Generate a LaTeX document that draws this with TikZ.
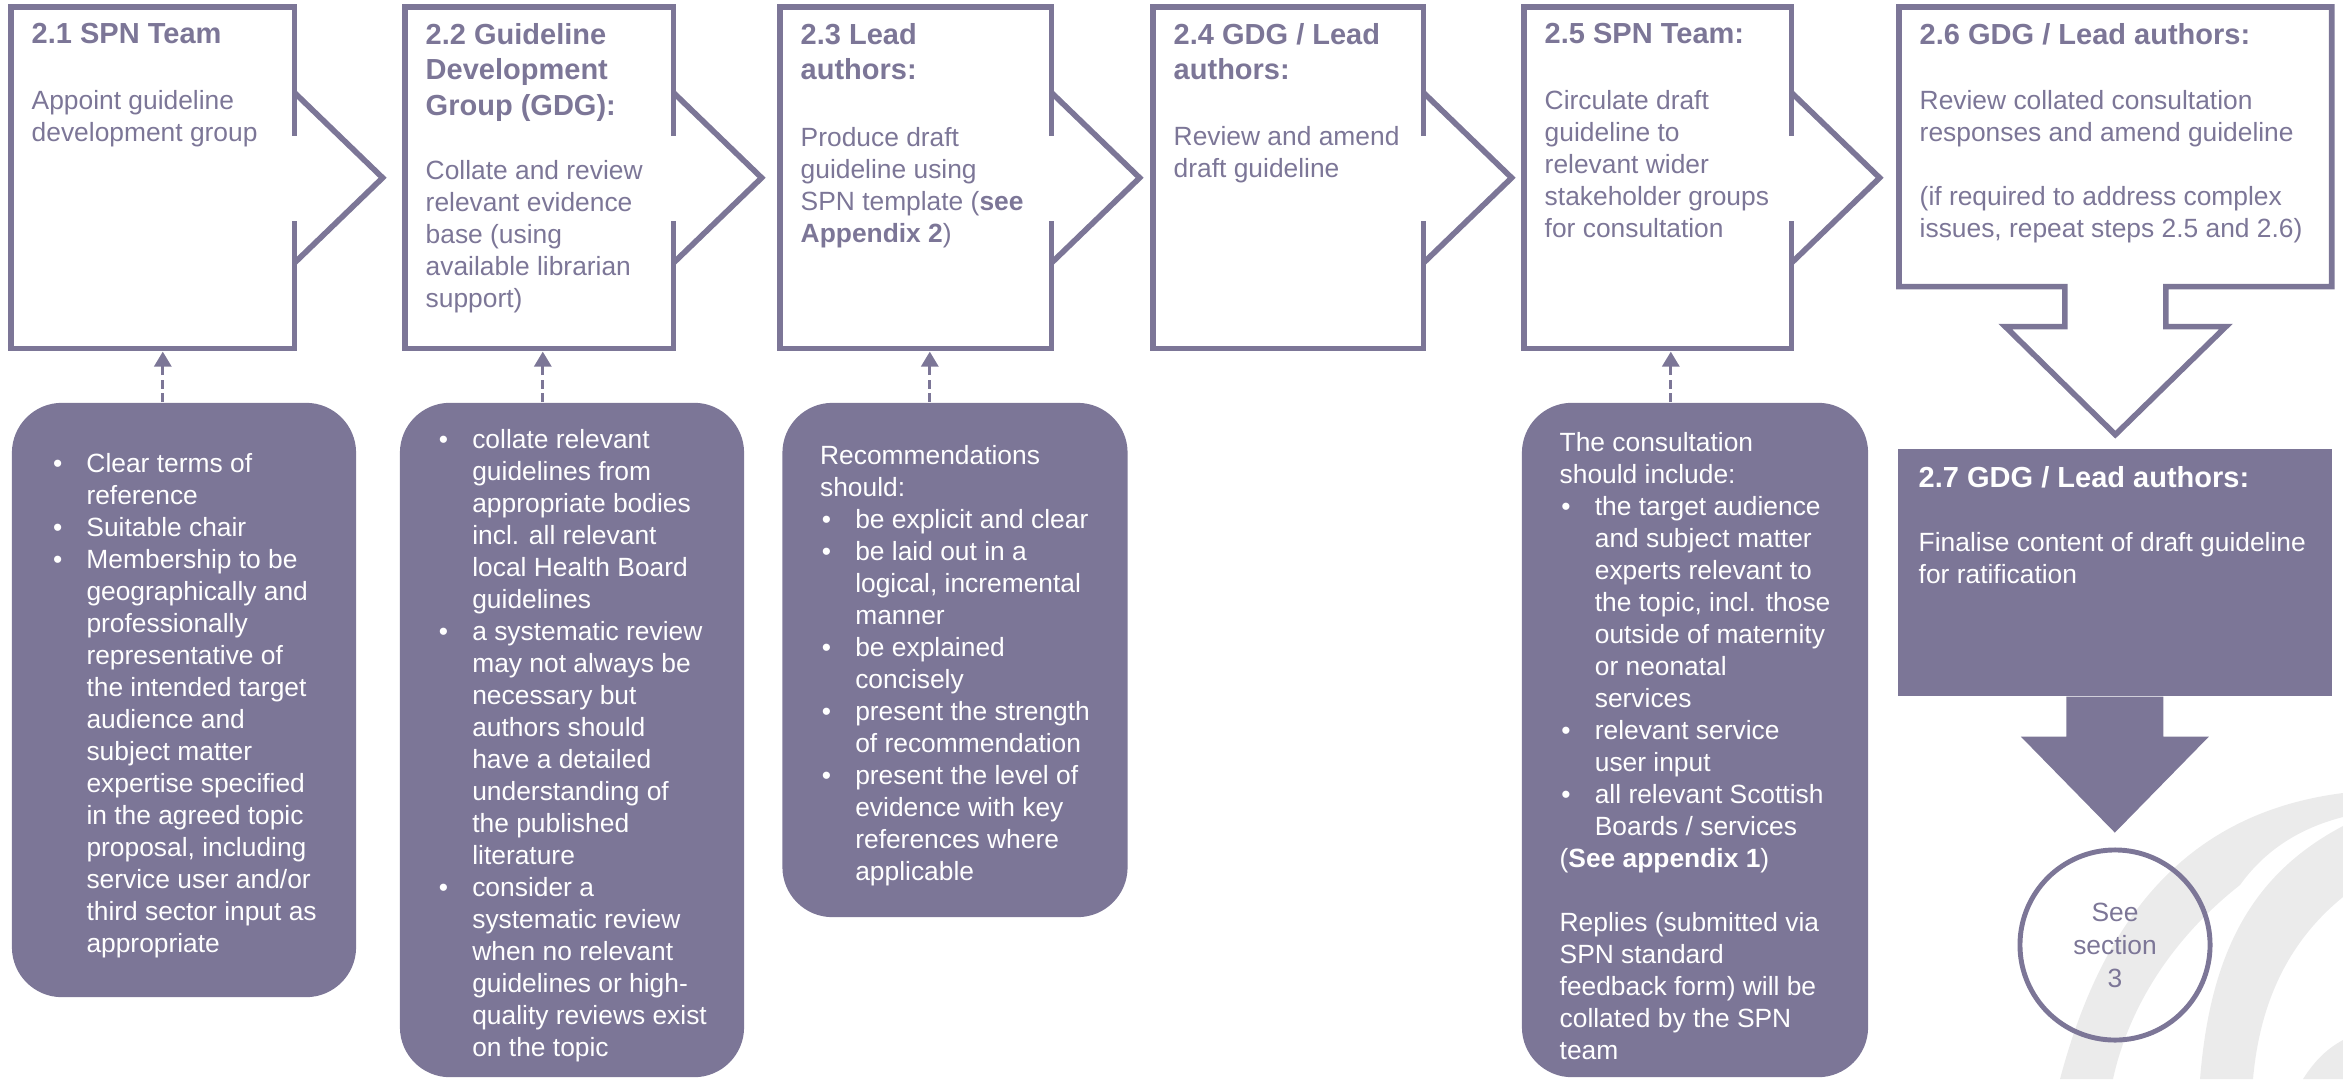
\documentclass[tikz,border=0pt]{standalone}
\usepackage{fontspec}
\setmainfont{Liberation Sans}
\usetikzlibrary{arrows.meta, positioning}
\definecolor{spnpurple}{HTML}{7C7697}
\definecolor{spngray}{HTML}{EBEBEB}
\newcommand{\bul}{\makebox[10pt][l]{\hspace{0.5pt}\textbullet}}
\newcommand{\ind}{\hspace*{10pt}}
\newcommand{\cstrut}{\rule{0pt}{8.9pt}}

\begin{document}
\begin{tikzpicture}[
  x=0.01cm, y=-0.01cm,
  every node/.style={font=\fontsize{7.5}{9.1}\selectfont, inner sep=0pt},
  stepbox/.style={rectangle, minimum height=3.4cm, anchor=north west},
  boxline/.style={draw=spnpurple, line width=1.6pt},
  head/.style={anchor=north west, align=left, text=spnpurple, font=\fontsize{8.25}{10}\selectfont\bfseries},
  body/.style={anchor=north west, align=left, text=spnpurple},
  callout/.style={rectangle, rounded corners=0.5cm, fill=spnpurple, text=white, align=left, minimum width=3.44cm},
  link/.style={draw=spnpurple, line width=0.9pt, dash pattern=on 0.09cm off 0.045cm, -{Triangle[width=0.17cm, length=0.15cm]}},
]
\useasboundingbox (0,0) rectangle (2343,1079);

% watermark arcs
\fill[spngray] (2060,1079) .. controls (2110,890) and (2210,810) .. (2343,793) -- (2343,817) .. controls (2300,828) and (2265,850) .. (2240,885) .. controls (2170,940) and (2128,1010) .. (2113,1079) -- cycle;
\fill[spngray] (2200,1079) .. controls (2210,955) and (2250,875) .. (2343,826) -- (2343,897) .. controls (2290,940) and (2260,1000) .. (2253,1079) -- cycle;
\fill[spngray] (2303,1079) .. controls (2315,1060) and (2328,1048) .. (2343,1040) -- (2343,1079) -- cycle;

% step boxes
\node[stepbox, minimum width=2.82cm] (s1) at (11,7) {};
\node[stepbox, minimum width=2.67cm] (s2) at (405,7) {};
\node[stepbox, minimum width=2.70cm] (s3) at (780,7) {};
\node[stepbox, minimum width=2.69cm] (s4) at (1153,7) {};
\node[stepbox, minimum width=2.66cm] (s5) at (1524,7) {};
\node[stepbox, minimum width=4.31cm, minimum height=2.78cm] (s6) at (1899,7) {};
\node[stepbox, minimum width=4.34cm, minimum height=2.47cm, fill=spnpurple] (s7) at (1897,448) {};

\foreach \b in {s1,s2,s3,s4,s5} {
  \draw[boxline] ([yshift=0.42cm]\b.east) |- (\b.north west) -- (\b.south west) -| ([yshift=-0.43cm]\b.east);
  \draw[boxline] ([yshift=0.85cm]\b.east) -- ([xshift=0.88cm]\b.east) -- ([yshift=-0.85cm]\b.east);
}

% down arrows
\draw[boxline] ([xshift=-0.505cm]s6.south) -- (s6.south west) -- (s6.north west) -- (s6.north east) -- (s6.south east) -- ([xshift=0.505cm]s6.south) -- ++(0cm,-0.4cm) -- ++(0.6cm,0cm) -- ([yshift=-1.48cm]s6.south) -- ([shift={(-1.1cm,-0.4cm)}]s6.south) -- ++(0.595cm,0cm) -- cycle;
\fill[spnpurple] ([xshift=-0.485cm]s7.south) -- ++(0cm,-0.4cm) -- ++(-0.455cm,0cm) -- ([yshift=-1.36cm]s7.south) -- ([shift={(0.94cm,-0.4cm)}]s7.south) -- ++(-0.455cm,0cm) -- ([xshift=0.485cm]s7.south) -- cycle;

\node[circle, draw=spnpurple, line width=1.4pt, minimum size=1.9cm, align=center, text=spnpurple, font=\fontsize{7.5}{9.4}\selectfont] (s8) at (2115,945) {See\\section\\3};

% box texts
\node[head] (h1) at ([xshift=0.2cm, yshift=-0.16cm]s1.north west) {2.1 SPN Team};
\node[body] (t1) at ([xshift=0.2cm, yshift=-0.83cm]s1.north west) {Appoint guideline\\development group};
\node[head] (h2) at ([xshift=0.2cm, yshift=-0.16cm]s2.north west) {2.2 Guideline\\Development\\Group (GDG):};
\node[body] (t2) at ([xshift=0.2cm, yshift=-1.53cm]s2.north west) {Collate and review\\relevant evidence\\base (using\\available librarian\\support)};
\node[head] (h3) at ([xshift=0.2cm, yshift=-0.16cm]s3.north west) {2.3 Lead\\authors:};
\node[body] (t3) at ([xshift=0.2cm, yshift=-1.20cm]s3.north west) {Produce draft\\guideline using\\SPN template (\textbf{see}\\\textbf{Appendix 2})};
\node[head] (h4) at ([xshift=0.2cm, yshift=-0.16cm]s4.north west) {2.4 GDG / Lead\\authors:};
\node[body] (t4) at ([xshift=0.2cm, yshift=-1.19cm]s4.north west) {Review and amend\\draft guideline};
\node[head] (h5) at ([xshift=0.2cm, yshift=-0.16cm]s5.north west) {2.5 SPN Team:};
\node[body] (t5) at ([xshift=0.2cm, yshift=-0.83cm]s5.north west) {Circulate draft\\guideline to\\relevant wider\\stakeholder groups\\for consultation};
\node[head] (h6) at ([xshift=0.2cm, yshift=-0.16cm]s6.north west) {2.6 GDG / Lead authors:};
\node[body] (t6) at ([xshift=0.2cm, yshift=-0.83cm]s6.north west) {Review collated consultation\\responses and amend guideline\\[9.1pt](if required to address complex\\issues, repeat steps 2.5 and 2.6)};
\node[head, text=white] (h7) at ([xshift=0.21cm, yshift=-0.18cm]s7.north west) {2.7 GDG / Lead authors:};
\node[body, text=white] (t7) at ([xshift=0.21cm, yshift=-0.84cm]s7.north west) {Finalise content of draft guideline\\for ratification};

% callouts
\node[callout, minimum height=5.94cm] (c1) at (184,700) {\cstrut\bul Clear terms of\\\ind reference\\\bul Suitable chair\\\bul Membership to be\\\ind geographically and\\\ind professionally\\\ind representative of\\\ind the intended target\\\ind audience and\\\ind subject matter\\\ind expertise specified\\\ind in the agreed topic\\\ind proposal, including\\\ind service user and/or\\\ind third sector input as\\\ind appropriate};
\node[callout, minimum height=6.74cm] (c2) at (572,740) {\cstrut\bul collate relevant\\\ind guidelines from\\\ind appropriate bodies\\\ind incl. all relevant\\\ind local Health Board\\\ind guidelines\\\bul a systematic review\\\ind may not always be\\\ind necessary but\\\ind authors should\\\ind have a detailed\\\ind understanding of\\\ind the published\\\ind literature\\\bul consider a\\\ind systematic review\\\ind when no relevant\\\ind guidelines or high-\\\ind quality reviews exist\\\ind on the topic};
\node[callout, minimum width=3.45cm, minimum height=5.14cm] (c3) at (955,660) {\cstrut Recommendations\\should:\\\bul be explicit and clear\\\bul be laid out in a\\\ind logical, incremental\\\ind manner\\\bul be explained\\\ind concisely\\\bul present the strength\\\ind of recommendation\\\bul present the level of\\\ind evidence with key\\\ind references where\\\ind applicable};
\node[callout, minimum width=3.46cm, minimum height=6.74cm] (c5) at (1695,740) {\cstrut The consultation\\should include:\\\bul the target audience\\\ind and subject matter\\\ind experts relevant to\\\ind the topic, incl. those\\\ind outside of maternity\\\ind or neonatal\\\ind services\\\bul relevant service\\\ind user input\\\bul all relevant Scottish\\\ind Boards / services\\(\textbf{See appendix 1})\\[9.1pt]Replies (submitted via\\SPN standard\\feedback form) will be\\collated by the SPN\\team};

% dashed links
\coordinate (k1) at ([xshift=0.10cm, yshift=-0.03cm]s1.south);
\coordinate (k2) at ([xshift=0.035cm, yshift=-0.03cm]s2.south);
\coordinate (k3) at ([xshift=0.14cm, yshift=-0.03cm]s3.south);
\coordinate (k5) at ([xshift=0.13cm, yshift=-0.03cm]s5.south);
\draw[link] (c1.north -| k1) -- (k1);
\draw[link] (c2.north -| k2) -- (k2);
\draw[link] (c3.north -| k3) -- (k3);
\draw[link] (c5.north -| k5) -- (k5);

\end{tikzpicture}
\end{document}
